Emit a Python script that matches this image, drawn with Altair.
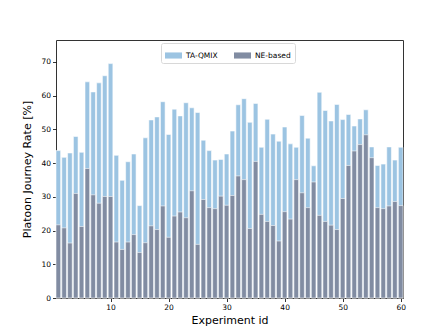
import altair as alt
import pandas as pd

exp_ids = list(range(1, 61))
ta_qmix = [43.7, 41.7, 43.0, 47.9, 43.2, 64.1, 61.1, 63.8, 65.9, 69.5,
           42.3, 34.9, 40.4, 42.7, 27.4, 47.5, 52.8, 53.7, 58.2, 48.5,
           56.0, 54.0, 57.9, 56.4, 55.0, 46.8, 43.7, 40.9, 41.1, 42.7,
           49.5, 57.3, 59.1, 52.1, 57.7, 44.7, 53.0, 48.6, 46.5, 50.7,
           45.7, 44.7, 54.1, 47.4, 39.2, 61.0, 55.6, 52.5, 57.4, 52.9,
           54.4, 51.0, 53.1, 55.8, 44.8, 39.3, 39.7, 44.8, 40.9, 44.7]
ne_based = [21.7, 20.8, 16.3, 31.0, 21.2, 38.4, 30.6, 28.1, 30.1, 30.1,
            16.6, 14.4, 16.6, 18.8, 13.5, 16.4, 21.4, 20.3, 27.3, 18.0,
            24.3, 25.5, 23.8, 31.8, 15.9, 29.2, 26.8, 26.5, 30.2, 27.5,
            30.4, 36.2, 35.1, 20.6, 40.5, 24.8, 22.7, 21.5, 16.9, 25.6,
            23.4, 35.1, 31.2, 26.8, 34.4, 24.5, 22.7, 21.6, 20.3, 29.5,
            39.3, 43.6, 45.5, 48.4, 41.6, 26.8, 26.5, 27.3, 28.6, 27.4]
series_names = ["TA-QMIX", "NE-based"]
series_colors = ["#9cc4e2", "#818ca2"]
x_ticks = [10, 20, 30, 40, 50, 60]
y_ticks = [0, 10, 20, 30, 40, 50, 60, 70]

df = pd.DataFrame({"id": exp_ids, "TA-QMIX": ta_qmix, "NE-based": ne_based})

FONT = "DejaVu Sans"

chart = (
    alt.Chart(df)
    .transform_fold(series_names, as_=["series", "value"])
    .transform_calculate(x0="datum.id - 0.4", x1="datum.id + 0.4")
    .mark_bar(stroke="white", strokeWidth=0.7, strokeOpacity=0.8, opacity=1)
    .encode(
        x=alt.X("x0:Q",
                scale=alt.Scale(domain=[0.6, 60.4], nice=False, zero=False),
                axis=alt.Axis(values=x_ticks, title="Experiment id", format="d",
                              titleFontWeight="normal", titleFont=FONT)),
        x2="x1:Q",
        y=alt.Y("value:Q", stack=None,
                scale=alt.Scale(domain=[0, 76.5], nice=False),
                axis=alt.Axis(values=y_ticks, title="Platoon Journey Rate [%]",
                              titleFontWeight="normal", titleFont=FONT)),
        y2=alt.datum(0),
        color=alt.Color("series:N",
                        scale=alt.Scale(domain=series_names, range=series_colors),
                        legend=alt.Legend(
                            title=None, orient="none", legendX=105, legendY=3,
                            direction="horizontal", columns=2,
                            symbolType="M-1,-0.36H1V0.36H-1Z", symbolSize=289,
                            symbolStrokeWidth=0, symbolOpacity=1,
                            labelFont=FONT, labelFontSize=7.5, labelColor="#000",
                            labelOffset=4, columnPadding=16,
                            padding=4, strokeColor="#d8d8d8", fillColor="white",
                            cornerRadius=2)),
    )
    .properties(
        width=347, height=258,
        autosize=alt.AutoSizeParams(type="none"),
        padding={"left": 48, "top": 32, "right": 37, "bottom": 30},
    )
    .configure_view(stroke="#333", strokeWidth=1)
    .configure_axis(
        domain=False, grid=False,
        labelFont=FONT, labelFontSize=7.5, labelColor="#000",
        tickColor="#000", tickSize=3.5, tickWidth=0.8, labelPadding=2,
        titleFont=FONT, titleFontSize=11, titleFontWeight="normal", titleColor="#000",
    )
    .configure_axisY(titlePadding=8)
    .configure_axisX(titlePadding=3)
)

chart.save("out.html", embed_options={"renderer": "svg", "actions": False})
